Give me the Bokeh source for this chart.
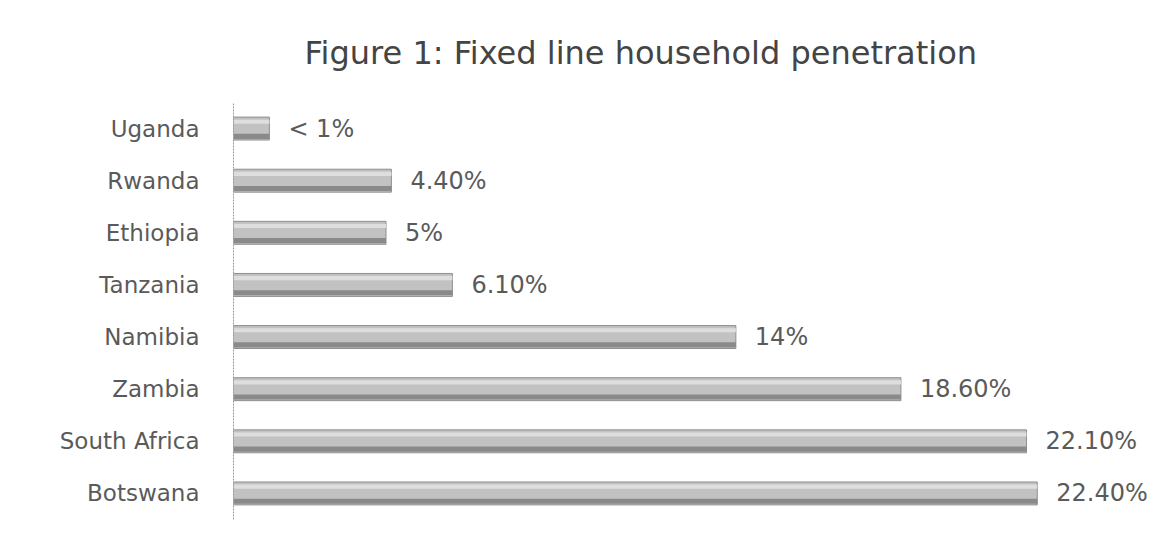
from bokeh.plotting import figure
from bokeh.models import Range1d, FactorRange, ColumnDataSource
from bokeh.transform import dodge
from bokeh.core.properties import value
from bokeh.embed import file_html
from bokeh.resources import INLINE

# Data (top to bottom as shown)
countries = ["Uganda", "Rwanda", "Ethiopia", "Tanzania", "Namibia", "Zambia", "South Africa", "Botswana"]
penetration = [1.0, 4.4, 4.25, 6.1, 14.0, 18.6, 22.1, 22.4]
labels = ["< 1%", "4.40%", "5%", "6.10%", "14%", "18.60%", "22.10%", "22.40%"]

src = ColumnDataSource(dict(country=countries, val=penetration, lab=labels))

p = figure(width=1148, height=530, output_backend="svg", toolbar_location=None,
           y_range=FactorRange(factors=list(reversed(countries)), range_padding=0),
           x_range=Range1d(0, 25.5),
           min_border_left=233, min_border_right=0, min_border_top=102, min_border_bottom=11)

p.title.text = "Figure 1: Fixed line household penetration"
p.title.text_font = "DejaVu Sans"
p.title.text_font_size = "32px"
p.title.text_font_style = "normal"
p.title.text_color = "#444444"
p.title.align = "left"
p.title.offset = 71
p.title.standoff = 62

p.outline_line_color = None
p.xgrid.visible = False
p.ygrid.visible = False
p.xaxis.visible = False

ax = p.yaxis[0]
ax.axis_line_color = "#9a9a9a"
ax.axis_line_dash = "2 1"
ax.major_tick_line_color = None
ax.minor_tick_line_color = None
ax.major_label_text_font = "DejaVu Sans"
ax.major_label_text_font_size = "23px"
ax.major_label_text_color = "#5a5a5a"
ax.major_label_standoff = 28

# bars
p.hbar(y="country", right="val", left=0, height=0.44, source=src,
       fill_color="#c2c2c2", line_color="#8e8e8e", line_width=1)
p.hbar(y=dodge("country", 0.13, range=p.y_range), right="val", left=0, height=0.08, source=src,
       fill_color="#dedede", line_color=None)
p.hbar(y=dodge("country", -0.15, range=p.y_range), right="val", left=0, height=0.1, source=src,
       fill_color="#8a8a8a", line_color=None)

p.text(x="val", y="country", text="lab", source=src, x_offset=19,
       text_baseline="middle", text_align="left",
       text_font=value("DejaVu Sans"), text_font_size="24px", text_color="#5a5a5a")

open("out.html", "w").write(file_html(p, INLINE))
